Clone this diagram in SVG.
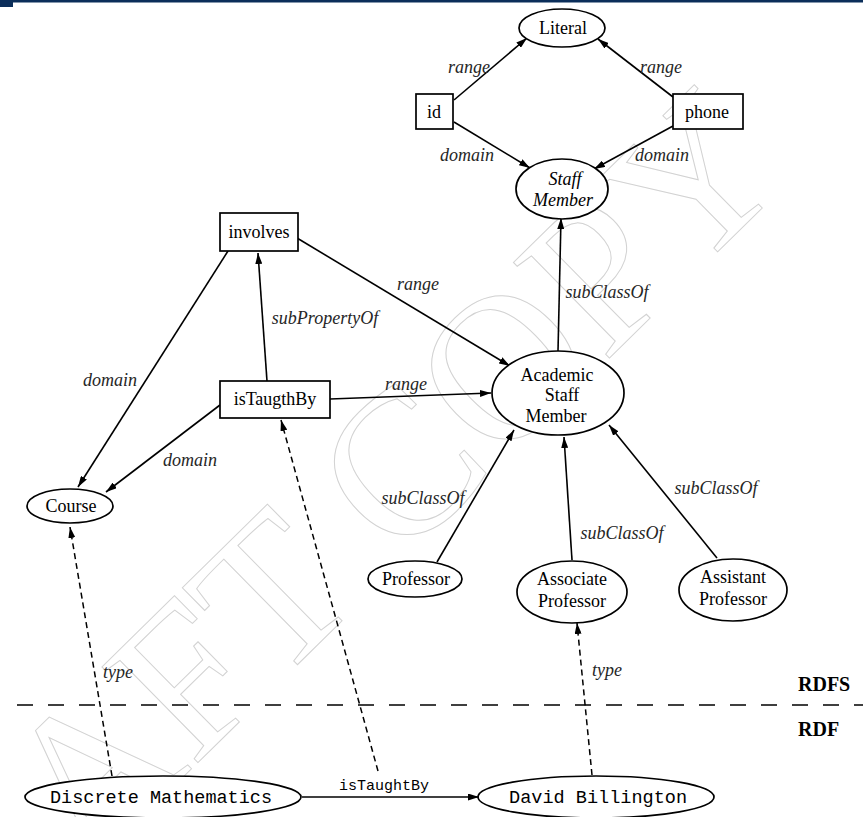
<svg xmlns="http://www.w3.org/2000/svg" width="863" height="817" viewBox="0 0 863 817">
<defs>
<style>
.node{fill:#fff;stroke:#000;stroke-width:1.7}
.t{font-family:"Liberation Serif","Times New Roman","DejaVu Serif",serif;font-size:18px;fill:#000;text-anchor:middle}
.ti{font-family:"Liberation Serif","Times New Roman","DejaVu Serif",serif;font-size:18px;font-style:italic;fill:#000;text-anchor:middle}
.lbl{font-family:"Liberation Serif","Times New Roman","DejaVu Serif",serif;font-size:18px;font-style:italic;fill:#262626;text-anchor:middle}
.mono{font-family:"Liberation Mono","Courier New",monospace;font-size:18px;fill:#000;text-anchor:middle}
.e{fill:none;stroke:#000;stroke-width:1.6;marker-end:url(#ah)}
.d{fill:none;stroke:#000;stroke-width:1.5;stroke-dasharray:6 4;marker-end:url(#ah)}
.wm{font-family:"Liberation Serif","Times New Roman","DejaVu Serif",serif;font-size:207px;fill:none;stroke:#d2d2d2;stroke-width:1}
.rd{font-family:"Liberation Serif","Times New Roman","DejaVu Serif",serif;font-size:20px;font-weight:bold;fill:#000}
</style>
<marker id="ah" markerUnits="userSpaceOnUse" markerWidth="12" markerHeight="7" refX="11" refY="3.5" orient="auto">
<path d="M0,0 L11,3.5 L0,7 z" fill="#000"/>
</marker>
</defs>
<rect width="863" height="817" fill="#fff"/>
<g id="header">
<rect x="0" y="0" width="863" height="2.5" fill="#0b2e5a"/>
<rect x="0" y="0" width="13" height="7" fill="#0b2e5a"/>
</g>
<g id="watermark">
<text class="wm" x="-119" y="1074" transform="rotate(-44.5 -119 1074)">DRAFT COPY</text>
</g>
<g id="divider">
<line x1="17" y1="705" x2="863" y2="705" stroke="#000" stroke-width="1.3" stroke-dasharray="16 15"/>
<text class="rd" x="798" y="691">RDFS</text>
<text class="rd" x="798" y="736">RDF</text>
</g>
<g id="connectors">
<line class="e" x1="454" y1="100" x2="527" y2="38"/>
<line class="e" x1="673" y1="97" x2="598" y2="39"/>
<line class="e" x1="454" y1="122" x2="530" y2="168"/>
<line class="e" x1="673" y1="126" x2="594" y2="169"/>
<line class="e" x1="558" y1="351" x2="561" y2="218"/>
<line class="e" x1="228" y1="251" x2="78" y2="487"/>
<line class="e" x1="267" y1="381" x2="258" y2="253"/>
<line class="e" x1="297" y1="238" x2="510" y2="366"/>
<line class="e" x1="330" y1="399" x2="491" y2="393"/>
<line class="e" x1="220" y1="405" x2="106" y2="492"/>
<line class="e" x1="437" y1="562" x2="514" y2="430"/>
<line class="e" x1="572" y1="560" x2="564" y2="437"/>
<line class="e" x1="717" y1="558" x2="609" y2="425"/>
<line class="d" x1="112" y1="776" x2="70" y2="527"/>
<line class="d" x1="378" y1="771" x2="281" y2="420"/>
<line class="e" x1="302" y1="797" x2="479" y2="797"/>
<line class="d" x1="592" y1="775" x2="577" y2="623"/>
<text class="lbl" x="469" y="73">range</text>
<text class="lbl" x="661" y="73">range</text>
<text class="lbl" x="467" y="161">domain</text>
<text class="lbl" x="662" y="161">domain</text>
<text class="lbl" x="607" y="298">subClassOf</text>
<text class="lbl" x="110" y="386">domain</text>
<text class="lbl" x="325" y="324">subPropertyOf</text>
<text class="lbl" x="418" y="290">range</text>
<text class="lbl" x="406" y="390">range</text>
<text class="lbl" x="190" y="466">domain</text>
<text class="lbl" x="423" y="504">subClassOf</text>
<text class="lbl" x="622" y="539">subClassOf</text>
<text class="lbl" x="716" y="494">subClassOf</text>
<text class="lbl" x="118" y="678">type</text>
<text class="lbl" x="607" y="676">type</text>
<text x="384" y="790" text-anchor="middle" font-family="Liberation Mono, monospace" font-size="15" textLength="90" lengthAdjust="spacingAndGlyphs">isTaughtBy</text>
</g>
<g id="n-literal"><ellipse class="node" cx="562" cy="28" rx="43" ry="19"/><text class="t" x="563" y="34">Literal</text></g>
<g id="n-id"><rect class="node" x="416" y="94" width="37" height="35"/><text class="t" x="434" y="118">id</text></g>
<g id="n-phone"><rect class="node" x="673" y="94" width="70" height="35"/><text class="t" x="707" y="118">phone</text></g>
<g id="n-staff"><ellipse class="node" cx="562" cy="189" rx="46" ry="30"/><text class="ti" x="565" y="185">Staff</text><text class="ti" x="563" y="206">Member</text></g>
<g id="n-involves"><rect class="node" x="220" y="213" width="78" height="38"/><text class="t" x="259" y="238">involves</text></g>
<g id="n-istaugthby"><rect class="node" x="220" y="381" width="110" height="37"/><text class="t" x="275" y="405">isTaugthBy</text></g>
<g id="n-course"><ellipse class="node" cx="70" cy="506" rx="43" ry="17"/><text class="t" x="71" y="512">Course</text></g>
<g id="n-academic"><ellipse class="node" cx="558" cy="393" rx="66" ry="42"/><text class="t" x="557" y="381">Academic</text><text class="t" x="562" y="401">Staff</text><text class="t" x="556" y="422">Member</text></g>
<g id="n-professor"><ellipse class="node" cx="415" cy="579" rx="47" ry="18"/><text class="t" x="416" y="585">Professor</text></g>
<g id="n-associate"><ellipse class="node" cx="572" cy="592" rx="55" ry="31"/><text class="t" x="572" y="585">Associate</text><text class="t" x="572" y="607">Professor</text></g>
<g id="n-assistant"><ellipse class="node" cx="733" cy="590" rx="54" ry="31"/><text class="t" x="733" y="583">Assistant</text><text class="t" x="733" y="605">Professor</text></g>
<g id="n-discrete"><ellipse class="node" cx="163" cy="797" rx="138" ry="21"/><text class="mono" x="161" y="803" textLength="222" lengthAdjust="spacingAndGlyphs">Discrete Mathematics</text></g>
<g id="n-david"><ellipse class="node" cx="596" cy="797" rx="118" ry="21"/><text class="mono" x="598" y="803" textLength="178" lengthAdjust="spacingAndGlyphs">David Billington</text></g>
</svg>
